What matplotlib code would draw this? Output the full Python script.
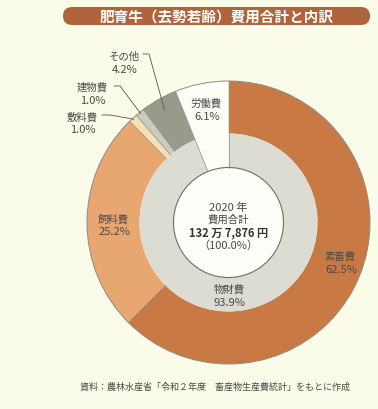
import numpy as np
import matplotlib.pyplot as plt
from matplotlib.patches import Circle, FancyBboxPatch

plt.rcParams['font.family'] = ['Noto Sans CJK JP', 'DejaVu Sans']

# data
outer_labels = ['素畜費', '飼料費', '敷料費', '建物費', 'その他', '労働費']
outer_values = [62.5, 25.2, 1.0, 1.0, 4.2, 6.1]
outer_colors = ['#c97a44', '#e8a771', '#f4e2b6', '#cbcbc0', '#989b8b', '#fefef6']
inner_labels = ['物財費', '労働費']
inner_values = [93.9, 6.1]
inner_colors = ['#dcdcd3', '#fefef6']
title = '肥育牛（去勢若齢）費用合計と内訳'
center_lines = ['2020 年', '費用合計', '132 万 7,876 円', '（100.0%）']
source = '資料：農林水産省「令和２年度　畜産物生産費統計」をもとに作成'

W, H = 378, 410
cx, cy = 228.5, 223.5
R1, R2, R3 = 141.5, 89, 55
bg = '#fbfbea'
edge = '#8c8c84'
txt = '#4a4a48'

fig = plt.figure(figsize=(W / 100, H / 100), dpi=100, facecolor=bg)
ax = fig.add_axes([0, 0, 1, 1])
ax.set_facecolor(bg)

# y axis is flipped, so counterclock=True draws clockwise on screen
ax.pie(outer_values, colors=outer_colors, radius=R1, center=(cx, cy),
       startangle=-90, counterclock=True,
       wedgeprops=dict(width=R1 - R2, linewidth=0))
ax.pie(inner_values, colors=inner_colors, radius=R2, center=(cx, cy),
       startangle=-90, counterclock=True,
       wedgeprops=dict(width=R2 - R3, linewidth=0))
ax.set_xlim(0, W)
ax.set_ylim(H, 0)
ax.set_aspect('auto')
ax.axis('off')

# separators
def pt(frac, r):
    a = np.deg2rad(360 * frac / 100)
    return cx + r * np.sin(a), cy - r * np.cos(a)

cum = np.cumsum([0] + outer_values)
for i, f in enumerate(cum[:-1]):
    r0 = R3 if outer_labels[i] == '労働費' or (i > 0 and outer_labels[i - 1] == '労働費') or i == 0 else R2
    x0, y0 = pt(f, r0)
    x1, y1 = pt(f, R1)
    ax.plot([x0, x1], [y0, y1], color=edge, lw=0.5)

ax.add_patch(Circle((cx, cy), R1, fill=False, ec=edge, lw=0.7))
ax.add_patch(Circle((cx, cy), R3, fc='#fefef8', ec='#6e6e68', lw=0.8))

# center text
ax.text(cx, 208, center_lines[0], ha='center', va='center', fontsize=8, color=txt)
ax.text(cx, 220, center_lines[1], ha='center', va='center', fontsize=7.5, color=txt)
ax.text(cx, 233, center_lines[2], ha='center', va='center', fontsize=8, color='#333333',
        fontweight='bold')
ax.text(cx, 245.5, center_lines[3], ha='center', va='center', fontsize=8, color=txt)

# ring labels (label, value, x, y)
pos = {
    '素畜費': (340, 257),
    '飼料費': (113, 219),
    '労働費': (206, 104),
    '敷料費': (82, 117),
    '建物費': (92, 88),
    'その他': (124, 57),
}
for lab, val in zip(outer_labels, outer_values):
    x, y = pos[lab]
    ax.text(x, y, lab, ha='center', va='center', fontsize=7.5, color=txt)
    ax.text(x + 1, y + 13, f'{val:.1f}%', ha='center', va='center', fontsize=8, color=txt)

ax.text(cx + 1, 290, inner_labels[0], ha='center', va='center', fontsize=7.5, color=txt)
ax.text(cx + 1, 303, f'{inner_values[0]:.1f}%', ha='center', va='center', fontsize=8, color=txt)

# leader lines
mid = cum[:-1] + np.array(outer_values) / 2
leaders = {'その他': ((143, 55), (149, 55), 0.92),
           '建物費': ((114, 87), (120, 87), 0.99),
           '敷料費': ((102, 116), (110, 116), 0.99)}
for i, lab in enumerate(outer_labels):
    if lab in leaders:
        a, b, rr = leaders[lab]
        ex, ey = pt(mid[i], R1 * rr)
        ax.plot([a[0], b[0], ex], [a[1], b[1], ey], color='#555555', lw=0.6)

# title bar
ax.add_patch(FancyBboxPatch((63, 8), 307, 18, boxstyle='round,pad=0,rounding_size=9',
                            fc='#b0643c', ec='none'))
ax.text(217, 17.5, title, ha='center', va='center', fontsize=10.5, color='white',
        fontweight='bold')

ax.text(215, 387, source, ha='center', va='center', fontsize=6.5, color=txt)

fig.savefig('out.png', dpi=100, facecolor=bg)
